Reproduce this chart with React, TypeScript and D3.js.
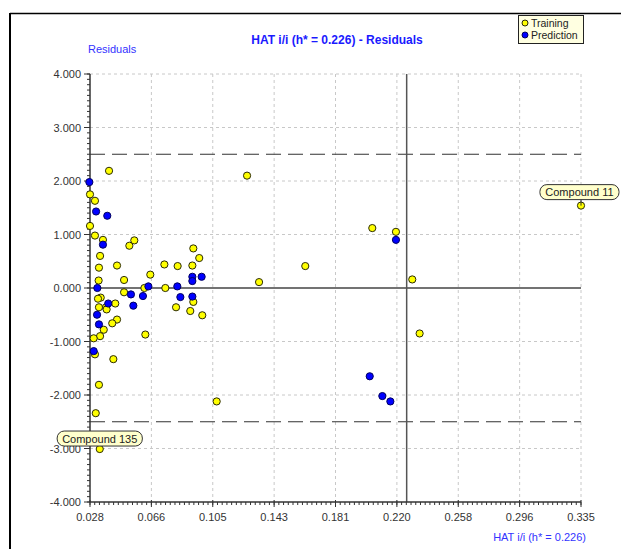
import React from 'react';
import * as d3 from 'd3';

// ---- Data ----
const trainingX = [0.0399, 0.0280, 0.0311, 0.0280, 0.0311, 0.0361, 0.0526, 0.0557, 0.0926, 0.0963, 0.0343, 0.0336, 0.0449, 0.0334, 0.0493, 0.0745, 0.0828, 0.0657, 0.0620, 0.0751, 0.0920, 0.0926, 0.0818, 0.0907, 0.0982, 0.0493, 0.0347, 0.0330, 0.0438, 0.0336, 0.0380, 0.0384, 0.0449, 0.0419, 0.0366, 0.0343, 0.0303, 0.0626, 0.0311, 0.0426, 0.0336, 0.0316, 0.0341, 0.1072, 0.1262, 0.1337, 0.1626, 0.2045, 0.2193, 0.2295, 0.2341, 0.3350];
const trainingY = [2.19, 1.75, 1.63, 1.16, 0.98, 0.90, 0.79, 0.89, 0.74, 0.56, 0.60, 0.38, 0.42, 0.14, 0.15, 0.44, 0.41, 0.25, 0.00, 0.00, 0.42, -0.26, -0.36, -0.43, -0.51, -0.08, -0.18, -0.20, -0.29, -0.36, -0.36, -0.40, -0.59, -0.66, -0.78, -0.90, -0.94, -0.87, -1.24, -1.33, -1.81, -2.34, -3.01, -2.12, 2.10, 0.11, 0.41, 1.12, 1.05, 0.16, -0.85, 1.54];
const predictionX = [0.0276, 0.0318, 0.0388, 0.0361, 0.0326, 0.0645, 0.0826, 0.0920, 0.0920, 0.0978, 0.0845, 0.0920, 0.0536, 0.0551, 0.0611, 0.0394, 0.0324, 0.0336, 0.0303, 0.2193, 0.2029, 0.2108, 0.2158];
const predictionY = [1.98, 1.43, 1.35, 0.81, 0.00, 0.03, 0.03, 0.21, 0.13, 0.21, -0.17, -0.16, -0.12, -0.33, -0.15, -0.29, -0.50, -0.68, -1.18, 0.90, -1.65, -2.02, -2.12];

const xTickLabels = ['0.028', '0.066', '0.105', '0.143', '0.181', '0.220', '0.258', '0.296', '0.335'];
const yTickValues = [4, 3, 2, 1, 0, -1, -2, -3, -4];
const yTickLabels = ['4.000', '3.000', '2.000', '1.000', '0.000', '-1.000', '-2.000', '-3.000', '-4.000'];
const xDomain = [0.028, 0.335];
const yDomain = [-4, 4];
const hStar = 0.226;
const residualLimit = 2.5;
const annotationNames = ['Compound 11', 'Compound 135'];
const annotationX = [0.3350, 0.0341];
const annotationY = [1.54, -3.01];

const title = 'HAT i/i (h* = 0.226) - Residuals';
const yTitle = 'Residuals';
const xTitle = 'HAT i/i (h* = 0.226)';
const legendLabels = ['Training', 'Prediction'];

const W = 621;
const H = 549;
const FONT = '"Liberation Sans", Arial, sans-serif';

export default function App() {
  const x = d3.scaleLinear().domain(xDomain).range([90, 581]);
  const y = d3.scaleLinear().domain(yDomain).range([502, 74]);
  const [x0, x1] = x.range();
  const [yb, yt] = y.range();

  const nMajor = xTickLabels.length - 1;
  const xTickPos = d3.range(xTickLabels.length).map(i => xDomain[0] + (i * (xDomain[1] - xDomain[0])) / nMajor);
  const minorPerMajor = 13;
  const xMinor = d3.range(nMajor * minorPerMajor + 1).map(i => xDomain[0] + (i * (xDomain[1] - xDomain[0])) / (nMajor * minorPerMajor));
  const yMinor = d3.range(-40, 41).map(i => i / 10);

  const training = trainingX.map((v, i) => ({ x: v, y: trainingY[i] }));
  const prediction = predictionX.map((v, i) => ({ x: v, y: predictionY[i] }));

  const tc = '#333333';

  return (
    <svg width={W} height={H} style={{ position: 'absolute', left: 0, top: 0, background: '#fff' }} fontFamily={FONT}>
      <rect x={0} y={0} width={W} height={H} fill="#fff" />
      {/* outer frame */}
      <line x1={10} y1={13.5} x2={W} y2={13.5} stroke="#000" strokeWidth={1.5} />
      <line x1={10} y1={13} x2={10} y2={H} stroke="#000" strokeWidth={2} />

      {/* grid */}
      {xTickPos.slice(1).map((t, i) => (
        <line key={'gx' + i} x1={x(t)} x2={x(t)} y1={yt} y2={yb} stroke="#c8c8c8" strokeDasharray="3,3" />
      ))}
      {yTickValues.filter(v => v !== 0 && v !== yDomain[0]).map((v, i) => (
        <line key={'gy' + i} x1={x0} x2={x1} y1={y(v)} y2={y(v)} stroke="#c8c8c8" strokeDasharray="3,3" />
      ))}

      {/* residual limits */}
      {[residualLimit, -residualLimit].map((v, i) => (
        <line key={'lim' + i} x1={x0} x2={x1} y1={y(v)} y2={y(v)} stroke="#333" strokeWidth={1.2} strokeDasharray="15,7" />
      ))}
      {/* zero line */}
      <line x1={x0} x2={x1} y1={y(0)} y2={y(0)} stroke="#444" strokeWidth={1.3} />
      {/* h* line */}
      <line x1={x(hStar)} x2={x(hStar)} y1={yt} y2={yb} stroke="#555" strokeWidth={1.5} />

      {/* y axis */}
      <line x1={x0} x2={x0} y1={yt} y2={yb} stroke={tc} strokeWidth={1.5} />
      {yMinor.map((v, i) => (
        <line key={'ymn' + i} x1={x0 - 3} x2={x0} y1={y(v)} y2={y(v)} stroke={tc} />
      ))}
      {yTickValues.map((v, i) => (
        <g key={'yt' + i}>
          <line x1={x0 - 6} x2={x0} y1={y(v)} y2={y(v)} stroke={tc} />
          <text x={81} y={y(v) + 4} textAnchor="end" fontSize={11} fill={tc}>{yTickLabels[i]}</text>
        </g>
      ))}

      {/* x axis */}
      <line x1={x0} x2={x1} y1={yb} y2={yb} stroke={tc} strokeWidth={1.5} />
      {xMinor.map((v, i) => (
        <line key={'xmn' + i} x1={x(v)} x2={x(v)} y1={yb} y2={yb + 3} stroke={tc} />
      ))}
      {xTickPos.map((t, i) => (
        <g key={'xt' + i}>
          <line x1={x(t)} x2={x(t)} y1={yb - 2} y2={yb + 5} stroke={tc} />
          <text x={x(t)} y={yb + 19} textAnchor="middle" fontSize={11} fill={tc}>{xTickLabels[i]}</text>
        </g>
      ))}

      {/* titles */}
      <text x={337} y={44} textAnchor="middle" fontSize={12} fontWeight="bold" fill="#1a1aff">{title}</text>
      <text x={88} y={53} fontSize={11} fill="#3333ff">{yTitle}</text>
      <text x={586} y={541} textAnchor="end" fontSize={11} fill="#3333ff">{xTitle}</text>

      {/* points */}
      {training.map((d, i) => (
        <circle key={'tr' + i} cx={x(d.x)} cy={y(d.y)} r={3.6} fill="#ffff00" stroke="#2a2a08" strokeWidth={1} />
      ))}
      {prediction.map((d, i) => (
        <circle key={'pr' + i} cx={x(d.x)} cy={y(d.y)} r={3.6} fill="#0000ff" stroke="#000060" strokeWidth={1} />
      ))}

      {/* annotations */}
      {annotationNames.map((name, i) => {
        const px = x(annotationX[i]);
        const py = y(annotationY[i]);
        const w = name.length * 6.1 + 12;
        const h = 15;
        let cx = px;
        if (cx + w / 2 > W - 2) cx = W - 2 - w / 2;
        const gap = i === 0 ? 6 : 3;
        const by = py - gap - h;
        return (
          <g key={'an' + i}>
            {i === 0 && <line x1={px} x2={px} y1={by + h} y2={py} stroke="#333" />}
            <rect x={cx - w / 2} y={by} width={w} height={h} rx={7} ry={7} fill="#ffffcc" stroke="#333" strokeWidth={1} />
            <text x={cx} y={by + 11.5} textAnchor="middle" fontSize={11} fill="#222">{name}</text>
          </g>
        );
      })}

      {/* legend */}
      <rect x={518.5} y={15.5} width={65} height={28} fill="#ffffe1" stroke="#222" />
      {legendLabels.map((lab, i) => (
        <g key={'lg' + i}>
          <circle cx={525} cy={23 + i * 12} r={3} fill={i === 0 ? '#ffff00' : '#0000ff'} stroke={i === 0 ? '#2a2a08' : '#000060'} />
          <text x={531} y={27 + i * 12} fontSize={10.5} fill="#222">{lab}</text>
        </g>
      ))}
    </svg>
  );
}
